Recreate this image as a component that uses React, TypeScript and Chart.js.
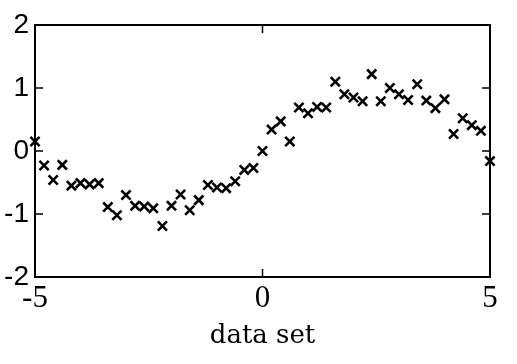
import React, { useEffect, useRef } from "react";
import { Chart, registerables } from "chart.js";

Chart.register(...registerables);

const xValues = [
  -5.0, -4.8, -4.6, -4.4, -4.2, -4.0, -3.8, -3.6, -3.4, -3.2, -3.0, -2.8, -2.6,
  -2.4, -2.2, -2.0, -1.8, -1.6, -1.4, -1.2, -1.0, -0.8, -0.6, -0.4, -0.2, 0.0,
  0.2, 0.4, 0.6, 0.8, 1.0, 1.2, 1.4, 1.6, 1.8, 2.0, 2.2, 2.4, 2.6, 2.8, 3.0,
  3.2, 3.4, 3.6, 3.8, 4.0, 4.2, 4.4, 4.6, 4.8, 5.0,
];
const yValues = [
  0.15, -0.23, -0.46, -0.22, -0.55, -0.51, -0.53, -0.51, -0.89, -1.02, -0.7,
  -0.87, -0.88, -0.91, -1.19, -0.87, -0.69, -0.94, -0.78, -0.54, -0.58, -0.59,
  -0.48, -0.3, -0.27, 0.0, 0.34, 0.47, 0.15, 0.69, 0.6, 0.7, 0.69, 1.1, 0.9,
  0.85, 0.79, 1.22, 0.79, 1.0, 0.9, 0.81, 1.06, 0.8, 0.68, 0.82, 0.27, 0.52,
  0.41, 0.32, -0.16,
];
const xTicks = [-5, 0, 5];
const yTicks = [-2, -1, 0, 1, 2];
const xTitle = "data set";

const frameAndTicks = {
  id: "frameAndTicks",
  afterDatasetsDraw(chart: any) {
    const { ctx, chartArea: a, scales } = chart;
    const L = 8;
    ctx.save();
    ctx.strokeStyle = "#000";
    ctx.lineWidth = 2;
    ctx.strokeRect(a.left, a.top, a.right - a.left, a.bottom - a.top);
    ctx.lineWidth = 1.5;
    ctx.beginPath();
    for (const v of yTicks) {
      if (v === -2 || v === 2) continue;
      const y = scales.y.getPixelForValue(v);
      ctx.moveTo(a.left, y);
      ctx.lineTo(a.left + L, y);
      ctx.moveTo(a.right, y);
      ctx.lineTo(a.right - L, y);
    }
    for (const v of xTicks) {
      if (v === -5 || v === 5) continue;
      const x = scales.x.getPixelForValue(v);
      ctx.moveTo(x, a.top);
      ctx.lineTo(x, a.top + L);
      ctx.moveTo(x, a.bottom);
      ctx.lineTo(x, a.bottom - L);
    }
    ctx.stroke();
    ctx.restore();
  },
};

export default function App() {
  const ref = useRef<HTMLCanvasElement>(null);
  useEffect(() => {
    if (!ref.current) return;
    const chart = new Chart(ref.current, {
      type: "scatter",
      data: {
        datasets: [
          {
            data: xValues.map((x, i) => ({ x, y: yValues[i] })),
            pointStyle: "crossRot",
            pointRadius: 6.5,
            pointBorderWidth: 2.6,
            borderColor: "#000",
            backgroundColor: "#000",
            clip: false as any,
          },
        ],
      },
      options: {
        responsive: false,
        animation: false,
        layout: { padding: { top: 25, right: 27, left: 0, bottom: 0 } },
        plugins: { legend: { display: false }, tooltip: { enabled: false } },
        scales: {
          x: {
            type: "linear",
            min: -5,
            max: 5,
            afterBuildTicks: (s: any) => {
              s.ticks = xTicks.map((v) => ({ value: v }));
            },
            afterFit: (s: any) => {
              s.height = 87;
            },
            grid: { display: false, drawTicks: false },
            border: { display: false },
            ticks: {
              color: "#000",
              padding: 3,
              maxRotation: 0,
              font: { family: "Liberation Serif", size: 31 },
            },
            title: {
              display: true,
              text: xTitle,
              color: "#000",
              padding: { top: 0, bottom: 12 },
              font: { family: "DejaVu Serif", size: 26 },
            },
          },
          y: {
            type: "linear",
            min: -2,
            max: 2,
            afterBuildTicks: (s: any) => {
              s.ticks = yTicks.map((v) => ({ value: v }));
            },
            afterFit: (s: any) => {
              s.width = 35;
            },
            grid: { display: false, drawTicks: false },
            border: { display: false },
            ticks: {
              color: "#000",
              padding: 6,
              font: { family: "Liberation Sans", size: 28 },
            },
          },
        },
      },
      plugins: [frameAndTicks],
    } as any);
    return () => chart.destroy();
  }, []);
  return (
    <div style={{ position: "fixed", left: 0, top: 0, width: 517, height: 364, background: "#fff" }}>
      <canvas ref={ref} width={517} height={364} style={{ display: "block" }} />
    </div>
  );
}
